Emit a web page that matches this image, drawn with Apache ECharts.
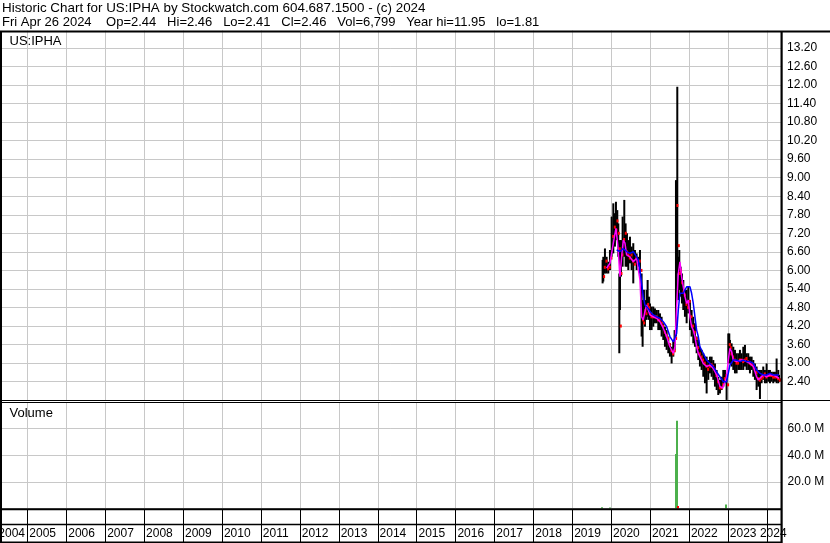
<!DOCTYPE html>
<html><head><meta charset="utf-8">
<script src="https://cdn.jsdelivr.net/npm/echarts@6/dist/echarts.min.js"></script>
<style>html,body{margin:0;padding:0;background:#fff;overflow:hidden}#c{width:830px;height:543px}</style>
</head><body><div id="c"></div>
<script>
// ---------- texts ----------
const titleLine1 = 'Historic Chart for US:IPHA by Stockwatch.com 604.687.1500 - (c) 2024';
const titleLine2 = 'Fri Apr 26 2024    Op=2.44   Hi=2.46   Lo=2.41   Cl=2.46   Vol=6,799   Year hi=11.95   lo=1.81';
const symbolLabel = 'US:IPHA';
const volumeLabel = 'Volume';

// ---------- axes ----------
const xStart = 2004.317, xEnd = 2024.37;          // decimal years
const yearTicks = [2005,2006,2007,2008,2009,2010,2011,2012,2013,2014,2015,2016,2017,2018,2019,2020,2021,2022,2023,2024];
const yearLabels = [2004,2005,2006,2007,2008,2009,2010,2011,2012,2013,2014,2015,2016,2017,2018,2019,2020,2021,2022,2023,2024];
const priceMin = 1.8, priceMax = 13.8, priceStep = 0.6;
const volMin = 0, volMax = 80e6, volStep = 20e6;

// ---------- price bars: [decimal year, high, low, close] ----------
const priceBars = [
[2019.783,6.34,5.58,5.80],[2019.801,6.44,5.64,6.10],[2019.843,6.71,5.90,6.30],[2019.886,6.44,5.90,6.05],
[2019.929,6.28,5.90,6.10],[2019.972,6.66,6.01,6.40],[2020.015,7.74,6.44,7.10],[2020.058,8.17,6.55,7.40],
[2020.100,7.85,6.77,7.30],[2020.126,8.22,6.98,7.60],[2020.160,7.95,6.98,7.20],[2020.186,7.52,6.44,6.70],
[2020.212,5.90,3.32,4.20],[2020.229,6.98,4.72,5.90],[2020.255,6.98,5.80,6.50],[2020.297,7.74,6.12,7.00],
[2020.340,8.28,6.44,7.20],[2020.374,7.52,6.12,6.60],[2020.409,7.20,6.12,6.50],[2020.443,6.98,6.01,6.40],
[2020.486,7.09,6.23,6.50],[2020.529,6.77,6.01,6.30],[2020.571,6.88,5.58,6.20],[2020.614,6.66,6.23,6.40],
[2020.657,6.55,6.01,6.30],[2020.700,6.44,6.12,6.30],[2020.743,6.66,5.90,6.00],[2020.785,5.90,3.86,4.40],
[2020.811,5.04,3.53,4.30],[2020.845,5.37,4.29,4.70],[2020.871,5.04,4.18,4.60],[2020.914,5.37,4.40,4.90],
[2020.940,5.69,4.50,4.80],[2020.974,5.15,4.40,4.60],[2021.000,4.93,4.07,4.50],[2021.042,4.83,4.07,4.50],
[2021.085,4.83,4.18,4.50],[2021.128,4.77,4.29,4.50],[2021.171,4.72,4.29,4.40],[2021.214,4.72,4.07,4.40],
[2021.257,4.61,4.07,4.30],[2021.299,4.50,3.86,4.20],[2021.342,4.29,3.75,4.00],[2021.385,4.18,3.53,3.90],
[2021.428,4.07,3.43,3.80],[2021.471,3.86,3.32,3.60],[2021.513,3.64,3.21,3.40],[2021.556,3.53,2.99,3.30],
[2021.599,3.75,3.21,3.40],[2021.633,4.07,3.43,3.80],[2021.668,8.92,3.86,8.10],[2021.702,11.94,5.90,6.80],
[2021.728,6.44,5.04,5.90],[2021.753,6.66,5.37,6.00],[2021.788,6.12,5.15,5.60],[2021.822,5.90,4.93,5.30],
[2021.856,5.69,4.72,5.20],[2021.899,5.37,4.50,4.90],[2021.942,5.37,4.29,4.80],[2021.985,5.47,4.61,5.00],
[2022.027,5.04,4.07,4.50],[2022.070,4.72,3.86,4.20],[2022.113,4.50,3.64,4.00],[2022.156,4.29,3.53,3.80],
[2022.199,3.86,3.32,3.50],[2022.242,3.75,3.10,3.30],[2022.284,3.53,2.89,3.20],[2022.327,3.43,2.78,3.10],
[2022.370,3.32,2.56,3.00],[2022.413,3.21,2.35,2.90],[2022.456,3.21,2.02,2.80],[2022.498,3.10,2.46,2.90],
[2022.541,3.21,2.67,2.95],[2022.584,3.21,2.56,2.90],[2022.627,3.10,2.46,2.80],[2022.670,2.99,2.24,2.60],
[2022.713,2.78,2.13,2.40],[2022.755,2.56,1.97,2.20],[2022.798,2.46,2.02,2.20],[2022.841,2.56,2.13,2.30],
[2022.884,2.78,2.24,2.50],[2022.927,2.78,2.35,2.60],[2022.969,2.56,1.81,2.30],[2023.012,3.96,2.99,3.60],
[2023.038,3.96,3.21,3.50],[2023.055,3.75,2.99,3.30],[2023.098,3.64,2.89,3.20],[2023.141,3.53,2.78,3.10],
[2023.184,3.43,2.67,3.00],[2023.226,3.32,2.67,3.00],[2023.269,3.32,2.78,3.10],[2023.312,3.43,2.78,3.10],
[2023.355,3.32,2.78,3.05],[2023.398,3.53,2.78,3.10],[2023.441,3.59,2.89,3.15],[2023.483,3.32,2.78,3.05],
[2023.526,3.32,2.78,3.00],[2023.569,3.21,2.67,2.95],[2023.612,3.21,2.78,2.95],[2023.655,3.10,2.56,2.85],
[2023.697,2.99,2.46,2.70],[2023.740,2.89,2.13,2.50],[2023.783,2.78,2.24,2.45],[2023.826,2.78,1.84,2.50],
[2023.869,2.78,2.35,2.55],[2023.911,2.89,2.46,2.65],[2023.954,2.78,2.35,2.55],[2023.997,2.99,2.35,2.60],
[2024.040,2.78,2.40,2.60],[2024.083,2.78,2.35,2.60],[2024.126,2.72,2.40,2.55],[2024.168,2.72,2.35,2.55],
[2024.211,2.72,2.40,2.55],[2024.254,3.15,2.35,2.50],[2024.297,2.78,2.35,2.45],[2024.315,2.62,2.40,2.46]
];

// ---------- moving averages ----------
const maFastYears = [2019.886,2019.972,2020.058,2020.126,2020.177,2020.229,2020.272,2020.314,2020.357,2020.400,2020.486,2020.571,2020.657,2020.700,2020.743,2020.785,2020.828,2020.871,2020.914,2020.957,2021.000,2021.085,2021.171,2021.257,2021.342,2021.428,2021.513,2021.599,2021.642,2021.685,2021.728,2021.770,2021.813,2021.856,2021.899,2021.942,2021.985,2022.027,2022.070,2022.113,2022.156,2022.199,2022.242,2022.284,2022.370,2022.456,2022.541,2022.627,2022.713,2022.798,2022.867,2022.927,2022.969,2023.012,2023.055,2023.098,2023.141,2023.226,2023.312,2023.398,2023.483,2023.569,2023.655,2023.740,2023.783,2023.826,2023.911,2023.997,2024.083,2024.168,2024.254,2024.315];
const maFast = [6.07,6.23,6.88,7.36,6.77,5.80,6.44,6.98,6.88,6.50,6.44,6.28,6.39,6.39,5.69,4.50,4.40,4.67,4.88,4.83,4.56,4.50,4.45,4.34,4.13,3.86,3.53,3.32,3.53,4.83,5.90,6.28,5.80,5.47,5.15,4.93,5.04,4.50,4.18,4.07,3.86,3.53,3.32,3.21,2.99,2.89,2.94,2.83,2.62,2.24,2.19,2.40,2.56,3.10,3.48,3.37,3.10,3.05,3.10,3.10,3.05,2.99,2.89,2.56,2.46,2.51,2.62,2.56,2.62,2.62,2.56,2.51];
const maSlowYears = [2020.143,2020.229,2020.314,2020.400,2020.486,2020.571,2020.657,2020.700,2020.743,2020.785,2020.828,2020.871,2020.914,2020.957,2021.000,2021.085,2021.171,2021.257,2021.342,2021.428,2021.513,2021.599,2021.642,2021.685,2021.728,2021.770,2021.856,2021.942,2022.027,2022.070,2022.113,2022.156,2022.199,2022.242,2022.284,2022.370,2022.456,2022.541,2022.627,2022.713,2022.798,2022.884,2022.969,2023.012,2023.055,2023.141,2023.226,2023.312,2023.398,2023.483,2023.569,2023.655,2023.740,2023.826,2023.911,2023.997,2024.083,2024.168,2024.254,2024.315];
const maSlow = [6.66,6.61,6.71,6.61,6.55,6.61,6.44,6.34,6.01,5.58,5.15,4.88,4.83,4.77,4.67,4.56,4.50,4.45,4.34,4.18,3.86,3.69,3.69,3.96,4.72,5.26,5.26,5.47,5.47,5.26,4.93,4.50,4.07,3.86,3.53,3.32,3.10,2.99,2.89,2.72,2.56,2.40,2.40,2.67,2.94,3.10,3.10,3.05,3.10,3.05,3.05,2.99,2.78,2.67,2.62,2.62,2.67,2.62,2.62,2.62];

// ---------- volume ----------
const volUpYears = [2019.77,2019.97,2021.664,2021.700,2022.950];
const volUp = [1.0e6,0.8e6,41e6,66e6,3.0e6];
const volDownYears = [2021.712];
const volDown = [1.8e6];

// ---------- chart ----------
const FONT = '"Liberation Sans", Arial, sans-serif';
const LABEL_FONT = '12px ' + FONT;
const GRID_LEFT = 0.72, GRID_W = 780.4;
const chart = echarts.init(document.getElementById('c'), null, {renderer: 'canvas', width: 830, height: 543});
const measureCtx = document.createElement('canvas').getContext('2d');
measureCtx.font = LABEL_FONT;

function vGrid(params, api) {
  const cs = params.coordSys;
  const x = Math.round(api.coord([api.value(0), api.value(1)])[0]) + 0.5;
  return {type: 'line', shape: {x1: x, y1: cs.y, x2: x, y2: cs.y + cs.height},
          style: {stroke: '#c8c8c8', lineWidth: 1}};
}
function volBar(color) {
  return function (params, api) {
    const top = api.coord([api.value(0), api.value(1)]);
    const base = api.coord([api.value(0), 0]);
    return {type: 'rect', shape: {x: Math.round(top[0]) - 1, y: top[1], width: 2, height: base[1] - top[1]},
            style: {fill: color}};
  };
}

const option = {
  animation: false,
  backgroundColor: '#fff',
  grid: [
    {left: GRID_LEFT, top: 29.25, width: GRID_W, height: 371},
    {left: GRID_LEFT, top: 402, width: GRID_W, height: 106.5},
    {left: GRID_LEFT, top: 510, width: GRID_W, height: 33}
  ],
  xAxis: [0, 1, 2].map(i => ({type: 'value', gridIndex: i, min: xStart, max: xEnd, show: false})),
  yAxis: [
    {type: 'value', gridIndex: 0, position: 'right', min: priceMin, max: priceMax, interval: priceStep,
     axisLine: {show: false}, axisTick: {show: false},
     splitLine: {show: true, lineStyle: {color: '#c8c8c8', width: 1}},
     axisLabel: {formatter: v => v.toFixed(2), showMinLabel: false, showMaxLabel: false, margin: 6,
                 color: '#000', fontSize: 12, fontFamily: FONT}},
    {type: 'value', gridIndex: 1, position: 'right', min: volMin, max: volMax, interval: volStep,
     axisLine: {show: false}, axisTick: {show: false},
     splitLine: {show: true, lineStyle: {color: '#c8c8c8', width: 1}},
     axisLabel: {formatter: v => (v / 1e6).toFixed(1) + ' M', showMinLabel: false, showMaxLabel: false, margin: 6.5,
                 color: '#000', fontSize: 12, fontFamily: FONT}},
    {type: 'value', gridIndex: 2, min: 0, max: 1, show: false}
  ],
  series: [
    {type: 'custom', name: 'yearGridPrice', xAxisIndex: 0, yAxisIndex: 0, z: 1, silent: true,
     data: yearTicks.map(y => [y, priceMin]), renderItem: vGrid},
    {type: 'custom', name: 'yearGridVol', xAxisIndex: 1, yAxisIndex: 1, z: 1, silent: true,
     data: yearTicks.map(y => [y, volMin]), renderItem: vGrid},
    {type: 'custom', name: 'yearBand', xAxisIndex: 2, yAxisIndex: 2, z: 3, silent: true,
     data: yearLabels.map(y => [y, 0]),
     renderItem: function (params, api) {
       const cs = params.coordSys;
       const xr = api.coord([api.value(0), 0])[0];
       const x = Math.round(xr) + 0.5;
       const text = String(api.value(0));
       const w = measureCtx.measureText(text).width;
       let tx = Math.max(xr + 2, cs.x - 2.4);
       tx = Math.min(tx, cs.x + cs.width + 5.5 - w);
       return {type: 'group', children: [
         {type: 'line', shape: {x1: x, y1: cs.y, x2: x, y2: cs.y + 32}, style: {stroke: '#000', lineWidth: 1}},
         {type: 'text', x: tx, y: cs.y + 23.5,
          style: {text: text, fill: '#000', font: LABEL_FONT, textAlign: 'left', textVerticalAlign: 'middle'}}
       ]};
     }},
    {type: 'custom', name: 'priceRange', xAxisIndex: 0, yAxisIndex: 0, z: 4, silent: true,
     data: priceBars,
     renderItem: function (params, api) {
       const hi = api.coord([api.value(0), api.value(1)]);
       const lo = api.coord([api.value(0), api.value(2)]);
       return {type: 'line', shape: {x1: hi[0], y1: hi[1], x2: lo[0], y2: lo[1]}, style: {stroke: '#000', lineWidth: 2}};
     }},
    {type: 'custom', name: 'close', xAxisIndex: 0, yAxisIndex: 0, z: 5, silent: true,
     data: priceBars,
     renderItem: function (params, api) {
       const c = api.coord([api.value(0), api.value(3)]);
       return {type: 'rect', shape: {x: c[0] + 0.5, y: c[1] - 1.5, width: 2, height: 3}, style: {fill: '#ff0000'}};
     }},
    {type: 'line', name: 'maFast', xAxisIndex: 0, yAxisIndex: 0, z: 6, showSymbol: false, silent: true,
     data: maFastYears.map((y, i) => [y, maFast[i]]), lineStyle: {color: '#ff00ff', width: 1.5}},
    {type: 'line', name: 'maSlow', xAxisIndex: 0, yAxisIndex: 0, z: 7, showSymbol: false, silent: true,
     data: maSlowYears.map((y, i) => [y, maSlow[i]]), lineStyle: {color: '#0000ff', width: 1.5}},
    {type: 'custom', name: 'volUp', xAxisIndex: 1, yAxisIndex: 1, z: 4, silent: true,
     data: volUpYears.map((y, i) => [y, volUp[i]]), renderItem: volBar('#4cb04c')},
    {type: 'custom', name: 'volDown', xAxisIndex: 1, yAxisIndex: 1, z: 5, silent: true,
     data: volDownYears.map((y, i) => [y, volDown[i]]), renderItem: volBar('#ff0000')}
  ],
  graphic: {elements: [
    {type: 'rect', z: 100, silent: true, shape: {x: 0, y: 0, width: 830, height: 30.5}, style: {fill: '#fff'}},
    {type: 'text', z: 101, x: 2, y: 8.5, style: {text: titleLine1, fill: '#000', font: '13.4px ' + FONT, textVerticalAlign: 'middle'}},
    {type: 'text', z: 101, x: 2, y: 22.5, style: {text: titleLine2, fill: '#000', font: '13px ' + FONT, textVerticalAlign: 'middle'}},
    {type: 'text', z: 101, x: 9.5, y: 41.5, style: {text: symbolLabel, fill: '#000', font: '13px ' + FONT, textVerticalAlign: 'middle'}},
    {type: 'text', z: 101, x: 9.5, y: 413.5, style: {text: volumeLabel, fill: '#000', font: '13px ' + FONT, textVerticalAlign: 'middle'}},
    // frame
    {type: 'line', z: 102, silent: true, shape: {x1: 0, y1: 31.5, x2: 830, y2: 31.5}, style: {stroke: '#000', lineWidth: 2}},
    {type: 'line', z: 102, silent: true, shape: {x1: 1, y1: 31, x2: 1, y2: 543}, style: {stroke: '#000', lineWidth: 2}},
    {type: 'line', z: 102, silent: true, shape: {x1: 781.6, y1: 31, x2: 781.6, y2: 543}, style: {stroke: '#000', lineWidth: 2.2}},
    {type: 'line', z: 102, silent: true, shape: {x1: 0, y1: 400.5, x2: 830, y2: 400.5}, style: {stroke: '#000', lineWidth: 1}},
    {type: 'line', z: 102, silent: true, shape: {x1: 0, y1: 402.5, x2: 782, y2: 402.5}, style: {stroke: '#000', lineWidth: 1}},
    {type: 'line', z: 102, silent: true, shape: {x1: 0, y1: 509.3, x2: 782, y2: 509.3}, style: {stroke: '#000', lineWidth: 2}},
    {type: 'line', z: 102, silent: true, shape: {x1: 0, y1: 524.4, x2: 782, y2: 524.4}, style: {stroke: '#000', lineWidth: 1.5}},
    {type: 'line', z: 102, silent: true, shape: {x1: 0, y1: 542.3, x2: 782, y2: 542.3}, style: {stroke: '#000', lineWidth: 1.5}}
  ]}
};
chart.setOption(option);
</script>
</body></html>
